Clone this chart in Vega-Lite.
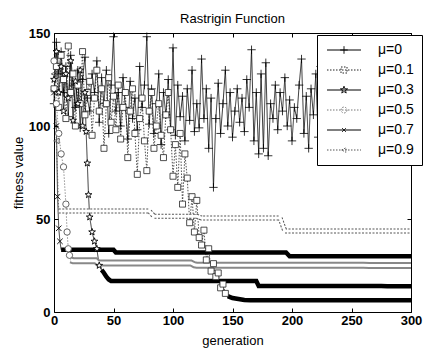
{
"$schema":"https://vega.github.io/schema/vega-lite/v6.json",
"width":357,"height":279,
"autosize":"none",
"padding":{"left":54,"top":33,"right":12,"bottom":39},
"title":{"text":"Rastrigin Function","fontSize":13,"font":"Liberation Sans","fontWeight":"normal","offset":1,"color":"black"},
"config":{
 "view":{"stroke":"black","strokeWidth":1},
 "axis":{"grid":false,"domain":false,"labelFont":"Liberation Sans","labelFontSize":13,"labelFontWeight":"bold","labelColor":"black","labelFlush":false,"titleFont":"Liberation Sans","titleFontSize":13,"titleFontWeight":"normal","titleColor":"black","tickColor":"black","tickSize":-4,"tickWidth":1},
 "legend":{"labelFont":"Liberation Sans","labelFontSize":14,"labelColor":"black"}
},
"data":{"values":[
{"s":"μ=0","g":0,"v":112},{"s":"μ=0","g":2,"v":145},{"s":"μ=0","g":4,"v":128},{"s":"μ=0","g":6,"v":140},{"s":"μ=0","g":8,"v":118},{"s":"μ=0","g":10,"v":132},{"s":"μ=0","g":12,"v":105},{"s":"μ=0","g":14,"v":138},{"s":"μ=0","g":16,"v":122},{"s":"μ=0","g":18,"v":110},{"s":"μ=0","g":20,"v":130},{"s":"μ=0","g":22,"v":99},{"s":"μ=0","g":24,"v":125},{"s":"μ=0","g":26,"v":137},{"s":"μ=0","g":28,"v":115},{"s":"μ=0","g":30,"v":108},{"s":"μ=0","g":32,"v":128},{"s":"μ=0","g":34,"v":118},{"s":"μ=0","g":36,"v":135},{"s":"μ=0","g":38,"v":102},{"s":"μ=0","g":40,"v":126},{"s":"μ=0","g":42,"v":112},{"s":"μ=0","g":44,"v":130},{"s":"μ=0","g":46,"v":96},{"s":"μ=0","g":48,"v":122},{"s":"μ=0","g":50,"v":148},{"s":"μ=0","g":52,"v":108},{"s":"μ=0","g":54,"v":118},{"s":"μ=0","g":56,"v":100},{"s":"μ=0","g":58,"v":126},{"s":"μ=0","g":60,"v":110},{"s":"μ=0","g":62,"v":93},{"s":"μ=0","g":64,"v":124},{"s":"μ=0","g":66,"v":104},{"s":"μ=0","g":68,"v":115},{"s":"μ=0","g":70,"v":98},{"s":"μ=0","g":72,"v":132},{"s":"μ=0","g":74,"v":110},{"s":"μ=0","g":76,"v":122},{"s":"μ=0","g":78,"v":148},{"s":"μ=0","g":80,"v":101},{"s":"μ=0","g":82,"v":120},{"s":"μ=0","g":84,"v":96},{"s":"μ=0","g":86,"v":112},{"s":"μ=0","g":88,"v":128},{"s":"μ=0","g":90,"v":90},{"s":"μ=0","g":92,"v":118},{"s":"μ=0","g":94,"v":106},{"s":"μ=0","g":96,"v":125},{"s":"μ=0","g":98,"v":98},{"s":"μ=0","g":100,"v":142},{"s":"μ=0","g":102,"v":95},{"s":"μ=0","g":104,"v":122},{"s":"μ=0","g":106,"v":105},{"s":"μ=0","g":108,"v":116},{"s":"μ=0","g":110,"v":92},{"s":"μ=0","g":112,"v":120},{"s":"μ=0","g":114,"v":103},{"s":"μ=0","g":116,"v":130},{"s":"μ=0","g":118,"v":97},{"s":"μ=0","g":120,"v":112},{"s":"μ=0","g":122,"v":99},{"s":"μ=0","g":124,"v":136},{"s":"μ=0","g":126,"v":104},{"s":"μ=0","g":128,"v":120},{"s":"μ=0","g":130,"v":88},{"s":"μ=0","g":132,"v":115},{"s":"μ=0","g":134,"v":67},{"s":"μ=0","g":136,"v":104},{"s":"μ=0","g":138,"v":123},{"s":"μ=0","g":140,"v":96},{"s":"μ=0","g":142,"v":112},{"s":"μ=0","g":144,"v":130},{"s":"μ=0","g":146,"v":100},{"s":"μ=0","g":148,"v":118},{"s":"μ=0","g":150,"v":94},{"s":"μ=0","g":152,"v":108},{"s":"μ=0","g":154,"v":120},{"s":"μ=0","g":156,"v":102},{"s":"μ=0","g":158,"v":115},{"s":"μ=0","g":160,"v":97},{"s":"μ=0","g":162,"v":125},{"s":"μ=0","g":164,"v":110},{"s":"μ=0","g":166,"v":141},{"s":"μ=0","g":168,"v":92},{"s":"μ=0","g":170,"v":118},{"s":"μ=0","g":172,"v":85},{"s":"μ=0","g":174,"v":128},{"s":"μ=0","g":176,"v":88},{"s":"μ=0","g":178,"v":134},{"s":"μ=0","g":180,"v":84},{"s":"μ=0","g":182,"v":112},{"s":"μ=0","g":184,"v":104},{"s":"μ=0","g":186,"v":122},{"s":"μ=0","g":188,"v":98},{"s":"μ=0","g":190,"v":118},{"s":"μ=0","g":192,"v":108},{"s":"μ=0","g":194,"v":126},{"s":"μ=0","g":196,"v":100},{"s":"μ=0","g":198,"v":114},{"s":"μ=0","g":200,"v":92},{"s":"μ=0","g":202,"v":110},{"s":"μ=0","g":204,"v":104},{"s":"μ=0","g":206,"v":122},{"s":"μ=0","g":208,"v":136},{"s":"μ=0","g":210,"v":96},{"s":"μ=0","g":212,"v":116},{"s":"μ=0","g":214,"v":88},{"s":"μ=0","g":216,"v":120},{"s":"μ=0","g":218,"v":106},{"s":"μ=0","g":220,"v":128},{"s":"μ=0","g":222,"v":94},{"s":"μ=0","g":224,"v":132},{"s":"μ=0","g":226,"v":102},{"s":"μ=0","g":228,"v":114},{"s":"μ=0","g":230,"v":97},{"s":"μ=0","g":232,"v":120},{"s":"μ=0","g":234,"v":88},{"s":"μ=0","g":236,"v":108},{"s":"μ=0","g":238,"v":102},{"s":"μ=0","g":240,"v":125},{"s":"μ=0","g":242,"v":93},{"s":"μ=0","g":244,"v":110},{"s":"μ=0","g":246,"v":135},{"s":"μ=0","g":248,"v":104},{"s":"μ=0","g":250,"v":118},{"s":"μ=0","g":252,"v":96},{"s":"μ=0","g":254,"v":128},{"s":"μ=0","g":256,"v":110},{"s":"μ=0","g":258,"v":88},{"s":"μ=0","g":260,"v":116},{"s":"μ=0","g":262,"v":100},{"s":"μ=0","g":264,"v":122},{"s":"μ=0","g":266,"v":84},{"s":"μ=0","g":268,"v":112},{"s":"μ=0","g":270,"v":98},{"s":"μ=0","g":272,"v":126},{"s":"μ=0","g":274,"v":105},{"s":"μ=0","g":276,"v":118},{"s":"μ=0","g":278,"v":92},{"s":"μ=0","g":280,"v":110},{"s":"μ=0","g":282,"v":124},{"s":"μ=0","g":284,"v":100},{"s":"μ=0","g":286,"v":113},{"s":"μ=0","g":288,"v":96},{"s":"μ=0","g":290,"v":120},{"s":"μ=0","g":292,"v":104},{"s":"μ=0","g":294,"v":116},{"s":"μ=0","g":296,"v":98},{"s":"μ=0","g":298,"v":125},{"s":"μ=0","g":300,"v":112},
{"s":"μ=0.1","g":0,"v":120},{"s":"μ=0.1","g":2,"v":132},{"s":"μ=0.1","g":4,"v":110},{"s":"μ=0.1","g":6,"v":138},{"s":"μ=0.1","g":8,"v":125},{"s":"μ=0.1","g":10,"v":104},{"s":"μ=0.1","g":12,"v":143},{"s":"μ=0.1","g":14,"v":118},{"s":"μ=0.1","g":16,"v":128},{"s":"μ=0.1","g":18,"v":100},{"s":"μ=0.1","g":20,"v":122},{"s":"μ=0.1","g":22,"v":112},{"s":"μ=0.1","g":24,"v":140},{"s":"μ=0.1","g":26,"v":106},{"s":"μ=0.1","g":28,"v":118},{"s":"μ=0.1","g":30,"v":124},{"s":"μ=0.1","g":32,"v":95},{"s":"μ=0.1","g":34,"v":115},{"s":"μ=0.1","g":36,"v":130},{"s":"μ=0.1","g":38,"v":108},{"s":"μ=0.1","g":40,"v":120},{"s":"μ=0.1","g":42,"v":88},{"s":"μ=0.1","g":44,"v":112},{"s":"μ=0.1","g":46,"v":126},{"s":"μ=0.1","g":48,"v":102},{"s":"μ=0.1","g":50,"v":116},{"s":"μ=0.1","g":52,"v":98},{"s":"μ=0.1","g":54,"v":122},{"s":"μ=0.1","g":56,"v":93},{"s":"μ=0.1","g":58,"v":110},{"s":"μ=0.1","g":60,"v":118},{"s":"μ=0.1","g":62,"v":83},{"s":"μ=0.1","g":64,"v":108},{"s":"μ=0.1","g":66,"v":120},{"s":"μ=0.1","g":68,"v":96},{"s":"μ=0.1","g":70,"v":74},{"s":"μ=0.1","g":72,"v":104},{"s":"μ=0.1","g":74,"v":115},{"s":"μ=0.1","g":76,"v":92},{"s":"μ=0.1","g":78,"v":76},{"s":"μ=0.1","g":80,"v":108},{"s":"μ=0.1","g":82,"v":118},{"s":"μ=0.1","g":84,"v":88},{"s":"μ=0.1","g":86,"v":100},{"s":"μ=0.1","g":88,"v":112},{"s":"μ=0.1","g":90,"v":95},{"s":"μ=0.1","g":92,"v":83},{"s":"μ=0.1","g":94,"v":106},{"s":"μ=0.1","g":96,"v":118},{"s":"μ=0.1","g":98,"v":98},{"s":"μ=0.1","g":100,"v":73},{"s":"μ=0.1","g":102,"v":90},{"s":"μ=0.1","g":104,"v":67},{"s":"μ=0.1","g":106,"v":96},{"s":"μ=0.1","g":108,"v":58},{"s":"μ=0.1","g":110,"v":85},{"s":"μ=0.1","g":112,"v":72},{"s":"μ=0.1","g":114,"v":48},{"s":"μ=0.1","g":116,"v":62},{"s":"μ=0.1","g":118,"v":43},{"s":"μ=0.1","g":120,"v":60},{"s":"μ=0.1","g":122,"v":40},{"s":"μ=0.1","g":124,"v":36},{"s":"μ=0.1","g":126,"v":44},{"s":"μ=0.1","g":128,"v":28},{"s":"μ=0.1","g":130,"v":34},{"s":"μ=0.1","g":132,"v":22},{"s":"μ=0.1","g":134,"v":26},{"s":"μ=0.1","g":136,"v":19},{"s":"μ=0.1","g":138,"v":21},{"s":"μ=0.1","g":140,"v":13},{"s":"μ=0.1","g":142,"v":15},{"s":"μ=0.1","g":144,"v":10},{"s":"μ=0.1","g":146,"v":8.5},{"s":"μ=0.1","g":148,"v":8},{"s":"μ=0.1","g":150,"v":7.5},{"s":"μ=0.1","g":155,"v":7},{"s":"μ=0.1","g":160,"v":6.5},{"s":"μ=0.1","g":165,"v":6.3},{"s":"μ=0.1","g":170,"v":6.3},{"s":"μ=0.1","g":175,"v":6.3},{"s":"μ=0.1","g":180,"v":6.3},{"s":"μ=0.1","g":185,"v":6.3},{"s":"μ=0.1","g":190,"v":6.3},{"s":"μ=0.1","g":195,"v":6.3},{"s":"μ=0.1","g":200,"v":6.3},{"s":"μ=0.1","g":205,"v":6.3},{"s":"μ=0.1","g":210,"v":6.3},{"s":"μ=0.1","g":215,"v":6.3},{"s":"μ=0.1","g":220,"v":6.3},{"s":"μ=0.1","g":225,"v":6.3},{"s":"μ=0.1","g":230,"v":6.3},{"s":"μ=0.1","g":235,"v":6.3},{"s":"μ=0.1","g":240,"v":6.3},{"s":"μ=0.1","g":245,"v":6.3},{"s":"μ=0.1","g":250,"v":6.3},{"s":"μ=0.1","g":255,"v":6.3},{"s":"μ=0.1","g":260,"v":6.3},{"s":"μ=0.1","g":265,"v":6.3},{"s":"μ=0.1","g":270,"v":6.3},{"s":"μ=0.1","g":275,"v":6.3},{"s":"μ=0.1","g":280,"v":6.3},{"s":"μ=0.1","g":285,"v":6.3},{"s":"μ=0.1","g":290,"v":6.3},{"s":"μ=0.1","g":295,"v":6.3},{"s":"μ=0.1","g":300,"v":6.3},
{"s":"μ=0.3","g":0,"v":125},{"s":"μ=0.3","g":2,"v":140},{"s":"μ=0.3","g":4,"v":118},{"s":"μ=0.3","g":6,"v":132},{"s":"μ=0.3","g":8,"v":108},{"s":"μ=0.3","g":10,"v":128},{"s":"μ=0.3","g":12,"v":115},{"s":"μ=0.3","g":14,"v":135},{"s":"μ=0.3","g":16,"v":103},{"s":"μ=0.3","g":18,"v":124},{"s":"μ=0.3","g":20,"v":112},{"s":"μ=0.3","g":22,"v":130},{"s":"μ=0.3","g":24,"v":100},{"s":"μ=0.3","g":26,"v":118},{"s":"μ=0.3","g":27,"v":97},{"s":"μ=0.3","g":28,"v":80},{"s":"μ=0.3","g":29,"v":63},{"s":"μ=0.3","g":30,"v":51},{"s":"μ=0.3","g":32,"v":43},{"s":"μ=0.3","g":34,"v":38},{"s":"μ=0.3","g":36,"v":34},{"s":"μ=0.3","g":38,"v":25},{"s":"μ=0.3","g":40,"v":22.6},{"s":"μ=0.3","g":42,"v":21},{"s":"μ=0.3","g":44,"v":19},{"s":"μ=0.3","g":46,"v":17.5},{"s":"μ=0.3","g":48,"v":16.6},{"s":"μ=0.3","g":50,"v":16.6},{"s":"μ=0.3","g":55,"v":16.6},{"s":"μ=0.3","g":60,"v":16.6},{"s":"μ=0.3","g":65,"v":16.6},{"s":"μ=0.3","g":70,"v":16.6},{"s":"μ=0.3","g":75,"v":16.6},{"s":"μ=0.3","g":80,"v":16.6},{"s":"μ=0.3","g":85,"v":16.6},{"s":"μ=0.3","g":90,"v":16.6},{"s":"μ=0.3","g":95,"v":16.6},{"s":"μ=0.3","g":100,"v":16.6},{"s":"μ=0.3","g":105,"v":16.6},{"s":"μ=0.3","g":110,"v":16.6},{"s":"μ=0.3","g":115,"v":16.6},{"s":"μ=0.3","g":120,"v":16.6},{"s":"μ=0.3","g":125,"v":16.6},{"s":"μ=0.3","g":130,"v":16.6},{"s":"μ=0.3","g":135,"v":16.6},{"s":"μ=0.3","g":140,"v":16.6},{"s":"μ=0.3","g":145,"v":16.6},{"s":"μ=0.3","g":150,"v":16.6},{"s":"μ=0.3","g":155,"v":16.6},{"s":"μ=0.3","g":160,"v":16.6},{"s":"μ=0.3","g":165,"v":16.6},{"s":"μ=0.3","g":170,"v":16.6},{"s":"μ=0.3","g":172,"v":14},{"s":"μ=0.3","g":175,"v":14},{"s":"μ=0.3","g":180,"v":14},{"s":"μ=0.3","g":185,"v":14},{"s":"μ=0.3","g":190,"v":14},{"s":"μ=0.3","g":195,"v":14},{"s":"μ=0.3","g":200,"v":14},{"s":"μ=0.3","g":205,"v":14},{"s":"μ=0.3","g":210,"v":14},{"s":"μ=0.3","g":215,"v":14},{"s":"μ=0.3","g":220,"v":14},{"s":"μ=0.3","g":225,"v":14},{"s":"μ=0.3","g":230,"v":14},{"s":"μ=0.3","g":235,"v":14},{"s":"μ=0.3","g":240,"v":14},{"s":"μ=0.3","g":245,"v":14},{"s":"μ=0.3","g":250,"v":14},{"s":"μ=0.3","g":255,"v":14},{"s":"μ=0.3","g":260,"v":14},{"s":"μ=0.3","g":265,"v":14},{"s":"μ=0.3","g":270,"v":14},{"s":"μ=0.3","g":275,"v":14},{"s":"μ=0.3","g":280,"v":13.9},{"s":"μ=0.3","g":285,"v":13.9},{"s":"μ=0.3","g":290,"v":13.8},{"s":"μ=0.3","g":295,"v":13.8},{"s":"μ=0.3","g":300,"v":13.8},
{"s":"μ=0.5","g":0,"v":135},{"s":"μ=0.5","g":2,"v":112},{"s":"μ=0.5","g":4,"v":96},{"s":"μ=0.5","g":6,"v":85},{"s":"μ=0.5","g":8,"v":78},{"s":"μ=0.5","g":10,"v":58},{"s":"μ=0.5","g":11,"v":43},{"s":"μ=0.5","g":12,"v":34},{"s":"μ=0.5","g":13,"v":30.5},{"s":"μ=0.5","g":14,"v":28},{"s":"μ=0.5","g":16,"v":27.6},{"s":"μ=0.5","g":20,"v":27.6},{"s":"μ=0.5","g":25,"v":27.6},{"s":"μ=0.5","g":30,"v":27.6},{"s":"μ=0.5","g":35,"v":27.6},{"s":"μ=0.5","g":37,"v":26.4},{"s":"μ=0.5","g":40,"v":26.4},{"s":"μ=0.5","g":45,"v":26.4},{"s":"μ=0.5","g":50,"v":26.4},{"s":"μ=0.5","g":55,"v":26.4},{"s":"μ=0.5","g":60,"v":26.4},{"s":"μ=0.5","g":65,"v":26.4},{"s":"μ=0.5","g":70,"v":26.4},{"s":"μ=0.5","g":75,"v":26.4},{"s":"μ=0.5","g":80,"v":26.4},{"s":"μ=0.5","g":85,"v":26.4},{"s":"μ=0.5","g":90,"v":26.4},{"s":"μ=0.5","g":95,"v":26.4},{"s":"μ=0.5","g":100,"v":26.4},{"s":"μ=0.5","g":105,"v":26.4},{"s":"μ=0.5","g":110,"v":26.4},{"s":"μ=0.5","g":115,"v":26.4},{"s":"μ=0.5","g":118,"v":25.4},{"s":"μ=0.5","g":120,"v":25.2},{"s":"μ=0.5","g":125,"v":25.2},{"s":"μ=0.5","g":130,"v":25.2},{"s":"μ=0.5","g":135,"v":25.2},{"s":"μ=0.5","g":140,"v":25.2},{"s":"μ=0.5","g":145,"v":25.2},{"s":"μ=0.5","g":150,"v":25.2},{"s":"μ=0.5","g":155,"v":25.2},{"s":"μ=0.5","g":160,"v":25.2},{"s":"μ=0.5","g":165,"v":25.2},{"s":"μ=0.5","g":170,"v":25.2},{"s":"μ=0.5","g":175,"v":25.2},{"s":"μ=0.5","g":180,"v":25.2},{"s":"μ=0.5","g":185,"v":25.2},{"s":"μ=0.5","g":190,"v":25.2},{"s":"μ=0.5","g":195,"v":25.2},{"s":"μ=0.5","g":200,"v":25.2},{"s":"μ=0.5","g":205,"v":25.2},{"s":"μ=0.5","g":210,"v":25.2},{"s":"μ=0.5","g":215,"v":25.2},{"s":"μ=0.5","g":220,"v":25.2},{"s":"μ=0.5","g":225,"v":25.1},{"s":"μ=0.5","g":230,"v":25.1},{"s":"μ=0.5","g":235,"v":25.1},{"s":"μ=0.5","g":240,"v":25.1},{"s":"μ=0.5","g":245,"v":25.1},{"s":"μ=0.5","g":250,"v":25.1},{"s":"μ=0.5","g":255,"v":25.1},{"s":"μ=0.5","g":260,"v":25.1},{"s":"μ=0.5","g":265,"v":25},{"s":"μ=0.5","g":270,"v":25},{"s":"μ=0.5","g":275,"v":25},{"s":"μ=0.5","g":280,"v":25},{"s":"μ=0.5","g":285,"v":25},{"s":"μ=0.5","g":290,"v":25},{"s":"μ=0.5","g":295,"v":25},{"s":"μ=0.5","g":300,"v":25},
{"s":"μ=0.7","g":0,"v":118},{"s":"μ=0.7","g":2,"v":100},{"s":"μ=0.7","g":3,"v":62},{"s":"μ=0.7","g":4,"v":45},{"s":"μ=0.7","g":5,"v":38},{"s":"μ=0.7","g":6,"v":33.5},{"s":"μ=0.7","g":10,"v":33.5},{"s":"μ=0.7","g":15,"v":33.5},{"s":"μ=0.7","g":20,"v":33.5},{"s":"μ=0.7","g":25,"v":33.5},{"s":"μ=0.7","g":30,"v":33.5},{"s":"μ=0.7","g":35,"v":33.5},{"s":"μ=0.7","g":40,"v":33.5},{"s":"μ=0.7","g":45,"v":33.5},{"s":"μ=0.7","g":50,"v":33.5},{"s":"μ=0.7","g":52,"v":32},{"s":"μ=0.7","g":55,"v":32},{"s":"μ=0.7","g":60,"v":32},{"s":"μ=0.7","g":65,"v":32},{"s":"μ=0.7","g":70,"v":32},{"s":"μ=0.7","g":75,"v":32},{"s":"μ=0.7","g":80,"v":32},{"s":"μ=0.7","g":85,"v":32},{"s":"μ=0.7","g":90,"v":32},{"s":"μ=0.7","g":95,"v":32},{"s":"μ=0.7","g":100,"v":32},{"s":"μ=0.7","g":105,"v":32},{"s":"μ=0.7","g":110,"v":32},{"s":"μ=0.7","g":115,"v":32},{"s":"μ=0.7","g":120,"v":32},{"s":"μ=0.7","g":125,"v":32},{"s":"μ=0.7","g":130,"v":32},{"s":"μ=0.7","g":135,"v":32},{"s":"μ=0.7","g":140,"v":32},{"s":"μ=0.7","g":145,"v":32},{"s":"μ=0.7","g":150,"v":32},{"s":"μ=0.7","g":155,"v":32},{"s":"μ=0.7","g":160,"v":32},{"s":"μ=0.7","g":165,"v":32},{"s":"μ=0.7","g":170,"v":32},{"s":"μ=0.7","g":175,"v":32},{"s":"μ=0.7","g":180,"v":32},{"s":"μ=0.7","g":185,"v":32},{"s":"μ=0.7","g":190,"v":32},{"s":"μ=0.7","g":195,"v":32},{"s":"μ=0.7","g":198,"v":30},{"s":"μ=0.7","g":200,"v":30},{"s":"μ=0.7","g":205,"v":30},{"s":"μ=0.7","g":210,"v":30},{"s":"μ=0.7","g":215,"v":30},{"s":"μ=0.7","g":220,"v":30},{"s":"μ=0.7","g":225,"v":30},{"s":"μ=0.7","g":230,"v":30},{"s":"μ=0.7","g":235,"v":30},{"s":"μ=0.7","g":240,"v":30},{"s":"μ=0.7","g":245,"v":30},{"s":"μ=0.7","g":250,"v":30},{"s":"μ=0.7","g":255,"v":30},{"s":"μ=0.7","g":260,"v":30},{"s":"μ=0.7","g":265,"v":30},{"s":"μ=0.7","g":270,"v":30},{"s":"μ=0.7","g":275,"v":30},{"s":"μ=0.7","g":280,"v":30},{"s":"μ=0.7","g":285,"v":30},{"s":"μ=0.7","g":290,"v":30},{"s":"μ=0.7","g":295,"v":30},{"s":"μ=0.7","g":300,"v":30},
{"s":"μ=0.9","g":0,"v":128},{"s":"μ=0.9","g":2,"v":92},{"s":"μ=0.9","g":4,"v":54.3},{"s":"μ=0.9","g":5,"v":54.3},{"s":"μ=0.9","g":10,"v":54.3},{"s":"μ=0.9","g":15,"v":54.3},{"s":"μ=0.9","g":20,"v":54.3},{"s":"μ=0.9","g":25,"v":54.3},{"s":"μ=0.9","g":30,"v":54.3},{"s":"μ=0.9","g":35,"v":54.3},{"s":"μ=0.9","g":40,"v":54.3},{"s":"μ=0.9","g":45,"v":54.3},{"s":"μ=0.9","g":50,"v":54.3},{"s":"μ=0.9","g":55,"v":54.3},{"s":"μ=0.9","g":60,"v":54.3},{"s":"μ=0.9","g":65,"v":54.3},{"s":"μ=0.9","g":70,"v":54.3},{"s":"μ=0.9","g":75,"v":54.3},{"s":"μ=0.9","g":80,"v":54.3},{"s":"μ=0.9","g":84,"v":51.5},{"s":"μ=0.9","g":85,"v":51.5},{"s":"μ=0.9","g":90,"v":51.5},{"s":"μ=0.9","g":95,"v":51.5},{"s":"μ=0.9","g":100,"v":51.5},{"s":"μ=0.9","g":105,"v":51.5},{"s":"μ=0.9","g":110,"v":51.5},{"s":"μ=0.9","g":115,"v":51.5},{"s":"μ=0.9","g":120,"v":51.5},{"s":"μ=0.9","g":124,"v":50.5},{"s":"μ=0.9","g":125,"v":50.5},{"s":"μ=0.9","g":130,"v":50.5},{"s":"μ=0.9","g":135,"v":50.5},{"s":"μ=0.9","g":140,"v":50.5},{"s":"μ=0.9","g":145,"v":50.5},{"s":"μ=0.9","g":150,"v":50.5},{"s":"μ=0.9","g":155,"v":50.5},{"s":"μ=0.9","g":160,"v":50.5},{"s":"μ=0.9","g":165,"v":50.5},{"s":"μ=0.9","g":170,"v":50.5},{"s":"μ=0.9","g":175,"v":50.5},{"s":"μ=0.9","g":180,"v":50.5},{"s":"μ=0.9","g":185,"v":50.5},{"s":"μ=0.9","g":190,"v":50.5},{"s":"μ=0.9","g":194,"v":43.5},{"s":"μ=0.9","g":195,"v":43.5},{"s":"μ=0.9","g":200,"v":43.5},{"s":"μ=0.9","g":205,"v":43.5},{"s":"μ=0.9","g":210,"v":43.5},{"s":"μ=0.9","g":215,"v":43.5},{"s":"μ=0.9","g":220,"v":43.5},{"s":"μ=0.9","g":225,"v":43.5},{"s":"μ=0.9","g":230,"v":43.5},{"s":"μ=0.9","g":235,"v":43.5},{"s":"μ=0.9","g":240,"v":43.5},{"s":"μ=0.9","g":245,"v":43.5},{"s":"μ=0.9","g":250,"v":43.5},{"s":"μ=0.9","g":255,"v":43.5},{"s":"μ=0.9","g":260,"v":43.5},{"s":"μ=0.9","g":265,"v":43.5},{"s":"μ=0.9","g":270,"v":43.5},{"s":"μ=0.9","g":275,"v":43.5},{"s":"μ=0.9","g":280,"v":43.5},{"s":"μ=0.9","g":285,"v":43.5},{"s":"μ=0.9","g":290,"v":43.5},{"s":"μ=0.9","g":295,"v":43.5},{"s":"μ=0.9","g":300,"v":43.5}
]},
"layer":[
 {
  "mark":{"type":"line","strokeWidth":0.8},
  "encoding":{
   "x":{"field":"g","type":"quantitative","scale":{"domain":[0,300],"nice":false},"axis":{"values":[0,50,100,150,200,250,300],"title":"generation","labelPadding":6,"titlePadding":7}},
   "y":{"field":"v","type":"quantitative","scale":{"domain":[0,150],"nice":false},"axis":{"values":[0,50,100,150],"title":"fitness value","labelPadding":8,"titlePadding":3}},
   "color":{"field":"s","type":"nominal","scale":{"domain":["μ=0","μ=0.1","μ=0.3","μ=0.5","μ=0.7","μ=0.9"],"range":["#000000","#222222","#000000","#777777","#000000","#555555"]},
    "legend":{"orient":"none","legendX":263,"legendY":2,"title":null,"strokeColor":"black","fillColor":"white","padding":8,"rowPadding":6,"symbolSize":100,"symbolOffset":12,"labelOffset":27,"symbolStrokeWidth":1,
     "encode":{"symbols":{"update":{
      "shape":{"signal":"datum.value==='μ=0'?'M-3.4,0H3.4M0,-0.75V0.75M-0.75,0H0.75':datum.value==='μ=0.1'?'M-3.4,0H3.4M-0.6,-0.6H0.6V0.6H-0.6Z':datum.value==='μ=0.3'?'M-3.4,0H3.4M0,-0.75L0.176,-0.243L0.713,-0.232L0.285,0.093L0.441,0.607L0,0.3L-0.441,0.607L-0.285,0.093L-0.713,-0.232L-0.176,-0.243Z':datum.value==='μ=0.5'?'M-3.4,0H3.4M0.6,0A0.6,0.6 0 1,1 -0.6,0A0.6,0.6 0 1,1 0.6,0Z':datum.value==='μ=0.7'?'M-3.4,0H3.4M-0.4,-0.4L0.4,0.4M-0.4,0.4L0.4,-0.4':'M-3.4,0H3.4M-0.5,0L0.4,-0.45L0.4,0.45Z'"},
      "strokeDash":{"signal":"indexof(['μ=0.1','μ=0.5','μ=0.9'], datum.value) >= 0 ? [1.5,1.5] : [1,0]"},
      "fill":{"value":"transparent"}
     }}}}},
   "strokeDash":{"field":"s","type":"nominal","scale":{"domain":["μ=0","μ=0.1","μ=0.3","μ=0.5","μ=0.7","μ=0.9"],"range":[[1,0],[1.5,1.5],[1,0],[1.5,1.5],[1,0],[1.5,1.5]]},"legend":null}
  }
 },
 {
  "transform":[{"filter":"(datum.s==='μ=0.7'&&datum.v<36)||(datum.s==='μ=0.3'&&datum.v<24)||(datum.s==='μ=0.1'&&datum.v<9)"}],
  "mark":{"type":"line","strokeWidth":4.5,"color":"black"},
  "encoding":{"x":{"field":"g","type":"quantitative","axis":null},"y":{"field":"v","type":"quantitative","axis":null},"detail":{"field":"s"}}
 },
 {
  "transform":[{"filter":"datum.s==='μ=0.5'&&datum.v<30"}],
  "mark":{"type":"line","strokeWidth":7,"color":"#888888"},
  "encoding":{"x":{"field":"g","type":"quantitative","axis":null},"y":{"field":"v","type":"quantitative","axis":null}}
 },
 {
  "transform":[{"filter":"datum.s==='μ=0.9'&&datum.v<56"}],
  "mark":{"type":"line","strokeWidth":5,"color":"#555555","strokeDash":[2,1.5]},
  "encoding":{"x":{"field":"g","type":"quantitative","axis":null},"y":{"field":"v","type":"quantitative","axis":null}}
 },
 {
  "transform":[{"filter":"(datum.s==='μ=0.5'&&datum.v<30)||(datum.s==='μ=0.9'&&datum.v<56)"}],
  "mark":{"type":"line","strokeWidth":3,"color":"white"},
  "encoding":{
   "x":{"field":"g","type":"quantitative","axis":{"orient":"top","labels":false,"title":null,"values":[0,50,100,150,200,250,300]}},
   "y":{"field":"v","type":"quantitative","axis":{"orient":"right","labels":false,"title":null,"values":[0,50,100,150]}},
   "detail":{"field":"s"}}
 },
 {
  "transform":[{"filter":"datum.s==='μ=0'"}],
  "mark":{"type":"point","shape":"M0,-1V1M-1,0H1","filled":false,"stroke":"black","strokeWidth":0.8,"size":70,"opacity":1},
  "encoding":{"x":{"field":"g","type":"quantitative","axis":null},"y":{"field":"v","type":"quantitative","axis":null}}
 },
 {
  "transform":[{"filter":"datum.s==='μ=0.1'&&datum.v>=9"}],
  "mark":{"type":"point","shape":"M-1,-1H1V1H-1Z","filled":false,"fill":"white","stroke":"#222222","strokeWidth":0.8,"size":36,"opacity":1},
  "encoding":{"x":{"field":"g","type":"quantitative","axis":null},"y":{"field":"v","type":"quantitative","axis":null}}
 },
 {
  "transform":[{"filter":"datum.s==='μ=0.3'&&datum.v>=24"}],
  "mark":{"type":"point","shape":"M0,-1L0.235,-0.324L0.951,-0.309L0.380,0.124L0.588,0.809L0,0.4L-0.588,0.809L-0.380,0.124L-0.951,-0.309L-0.235,-0.324Z","filled":false,"fill":"white","stroke":"black","strokeWidth":0.9,"size":50,"opacity":1},
  "encoding":{"x":{"field":"g","type":"quantitative","axis":null},"y":{"field":"v","type":"quantitative","axis":null}}
 },
 {
  "transform":[{"filter":"datum.s==='μ=0.5'&&datum.v>=30"}],
  "mark":{"type":"point","shape":"circle","filled":false,"fill":"white","stroke":"#555555","strokeWidth":0.9,"size":40,"opacity":1},
  "encoding":{"x":{"field":"g","type":"quantitative","axis":null},"y":{"field":"v","type":"quantitative","axis":null}}
 },
 {
  "transform":[{"filter":"datum.s==='μ=0.7'&&datum.v>=36"}],
  "mark":{"type":"point","shape":"M-1,-1L1,1M-1,1L1,-1","filled":false,"stroke":"black","strokeWidth":0.9,"size":30,"opacity":1},
  "encoding":{"x":{"field":"g","type":"quantitative","axis":null},"y":{"field":"v","type":"quantitative","axis":null}}
 },
 {
  "transform":[{"filter":"datum.s==='μ=0.9'&&datum.v>=56"}],
  "mark":{"type":"point","shape":"M-1,0L1,-1L1,1Z","filled":false,"stroke":"#555555","strokeWidth":0.9,"size":30,"opacity":1},
  "encoding":{"x":{"field":"g","type":"quantitative","axis":null},"y":{"field":"v","type":"quantitative","axis":null}}
 }
],
"resolve":{"axis":{"x":"independent","y":"independent"}}
}
